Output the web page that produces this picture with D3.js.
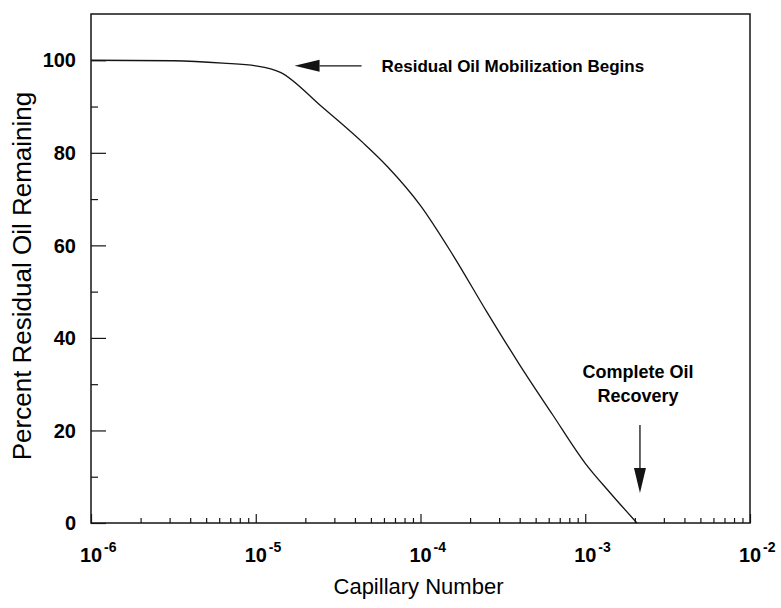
<!DOCTYPE html>
<html>
<head>
<meta charset="utf-8">
<script src="https://cdn.jsdelivr.net/npm/d3@7"></script>
<style>
  html, body { margin: 0; padding: 0; background: #fff; }
  svg { display: block; font-family: "Liberation Sans", Arial, Helvetica, sans-serif; }
</style>
</head>
<body>
<svg id="chart" width="781" height="608"></svg>
<script>
// Capillary number (log scale) vs. percent residual oil remaining
const capillaryNumber = [1.0e-6, 3.16e-6, 6.31e-6, 1.0e-5, 1.41e-5, 2.51e-5, 4.47e-5, 6.31e-5,
  1.0e-4, 1.58e-4, 2.51e-4, 3.98e-4, 6.31e-4, 1.0e-3, 1.41e-3, 2.06e-3];
const residualOil = [100, 99.9, 99.4, 98.8, 97.4, 90.0, 82.2, 77.0,
  68.6, 57.8, 45.8, 34.3, 23.5, 12.9, 6.6, 0];

const xDecadeExponents = [-6, -5, -4, -3, -2];
const yMajorTicks = [0, 20, 40, 60, 80, 100];
const yMinorTicks = [10, 30, 50, 70, 90];

const mobilizationLabel = "Residual Oil Mobilization Begins";
const mobilizationArrowTip = { x: 1.72e-5, y: 98.8 };
const recoveryLabel = ["Complete Oil", "Recovery"];
const recoveryPoint = { x: 2.06e-3, y: 0 };

const svg = d3.select("#chart");
const frame = { left: 91, right: 750, top: 14, bottom: 523 };
const ink = "#141414";

const x = d3.scaleLog().domain([1e-6, 1e-2]).range([frame.left, frame.right]);
const y = d3.scaleLinear().domain([0, 110]).range([frame.bottom, frame.top]);

// x ticks: decades long, 2..9 multiples short, drawn inward
const xMinor = [];
xDecadeExponents.slice(0, -1).forEach(e => {
  for (let m = 2; m <= 9; m++) xMinor.push(m * Math.pow(10, e));
});
const xMajor = xDecadeExponents.map(e => Math.pow(10, e));

const xAxisMinor = d3.axisBottom(x).tickValues(xMinor).tickSizeInner(-5).tickSizeOuter(0).tickFormat("");
const xAxisMajor = d3.axisBottom(x).tickValues(xMajor).tickSizeInner(-9).tickSizeOuter(0).tickFormat("");
const gxMinor = svg.append("g").attr("transform", `translate(0,${frame.bottom})`).call(xAxisMinor);
const gxMajor = svg.append("g").attr("transform", `translate(0,${frame.bottom})`).call(xAxisMajor);

const yAxisMinor = d3.axisLeft(y).tickValues(yMinorTicks).tickSizeInner(-7).tickSizeOuter(0).tickFormat("");
const yAxisMajor = d3.axisLeft(y).tickValues(yMajorTicks).tickSizeInner(-15).tickSizeOuter(0).tickFormat("");
const gyMinor = svg.append("g").attr("transform", `translate(${frame.left},0)`).call(yAxisMinor);
const gyMajor = svg.append("g").attr("transform", `translate(${frame.left},0)`).call(yAxisMajor);

[gxMinor, gxMajor, gyMinor, gyMajor].forEach(g => {
  g.select(".domain").remove();
  g.selectAll(".tick line").attr("stroke", ink).attr("stroke-width", 1.2);
});

// plot frame
svg.append("rect")
  .attr("x", frame.left).attr("y", frame.top)
  .attr("width", frame.right - frame.left).attr("height", frame.bottom - frame.top)
  .attr("fill", "none").attr("stroke", ink).attr("stroke-width", 1.5);

// y tick labels
svg.append("g").selectAll("text").data(yMajorTicks).join("text")
  .attr("x", 76).attr("y", d => y(d)).attr("dy", "0.36em")
  .attr("text-anchor", "end")
  .attr("font-size", 20).attr("font-weight", "bold").attr("fill", "#000")
  .text(d => d);

// x tick labels as 10 with superscript exponent
const xl = svg.append("g").selectAll("g").data(xDecadeExponents).join("g")
  .attr("transform", e => `translate(${x(Math.pow(10, e))},562)`);
xl.append("text").attr("text-anchor", "middle")
  .attr("font-size", 20).attr("font-weight", "bold").attr("fill", "#000")
  .text("10");
xl.append("text").attr("x", 13).attr("y", -10)
  .attr("font-size", 14).attr("font-weight", "bold").attr("fill", "#000")
  .text(e => String(e));

// axis titles
svg.append("text")
  .attr("x", (frame.left + frame.right) / 2 - 2).attr("y", 594)
  .attr("text-anchor", "middle").attr("font-size", 22).attr("fill", "#000")
  .text("Capillary Number");
svg.append("text")
  .attr("transform", `translate(31,276) rotate(-90)`)
  .attr("text-anchor", "middle").attr("font-size", 26).attr("fill", "#000")
  .text("Percent Residual Oil Remaining");

// curve
const line = d3.line()
  .x((d, i) => x(capillaryNumber[i]))
  .y(d => y(d))
  .curve(d3.curveMonotoneX);
svg.append("path")
  .datum(residualOil)
  .attr("d", line)
  .attr("fill", "none").attr("stroke", ink).attr("stroke-width", 1.3);

// annotation arrows
function arrow(x1, y1, x2, y2, headLen, headHalf) {
  const ang = Math.atan2(y2 - y1, x2 - x1);
  const bx = x2 - headLen * Math.cos(ang), by = y2 - headLen * Math.sin(ang);
  svg.append("line").attr("x1", x1).attr("y1", y1).attr("x2", bx).attr("y2", by)
    .attr("stroke", ink).attr("stroke-width", 1.3);
  const px = -Math.sin(ang) * headHalf, py = Math.cos(ang) * headHalf;
  svg.append("path")
    .attr("d", `M${x2},${y2}L${bx + px},${by + py}L${bx - px},${by - py}Z`)
    .attr("fill", ink);
}

const mobX = x(mobilizationArrowTip.x);
const mobY = y(mobilizationArrowTip.y);
arrow(mobX + 67, mobY, mobX, mobY, 25, 6);
svg.append("text")
  .attr("x", mobX + 87).attr("y", mobY + 6)
  .attr("font-size", 17).attr("font-weight", "bold").attr("fill", "#000")
  .text(mobilizationLabel);

const recX = x(recoveryPoint.x) + 3;
arrow(recX, 425, recX, y(recoveryPoint.y) - 30, 25, 6);
svg.append("g").selectAll("text").data(recoveryLabel).join("text")
  .attr("x", recX - 2).attr("y", (d, i) => 378 + i * 24)
  .attr("text-anchor", "middle")
  .attr("font-size", 18).attr("font-weight", "bold").attr("fill", "#000")
  .text(d => d);
</script>
</body>
</html>
